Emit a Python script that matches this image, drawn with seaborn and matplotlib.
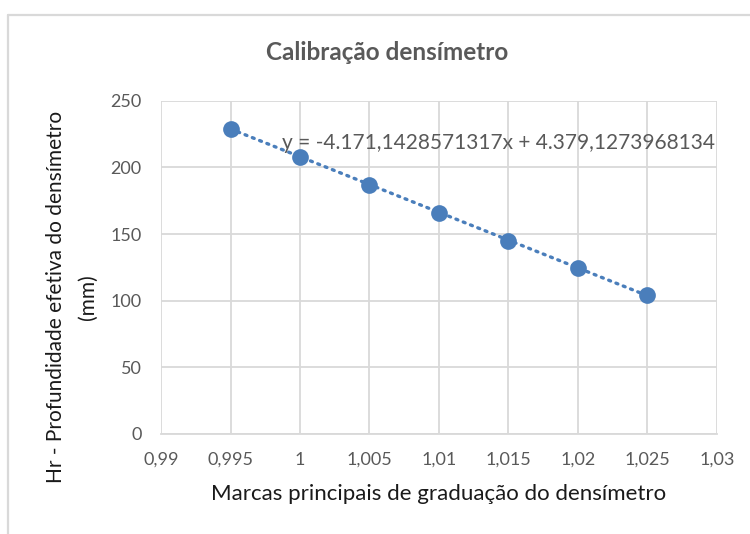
import matplotlib
matplotlib.use("Agg")
import matplotlib.pyplot as plt
import seaborn as sns
import pandas as pd
from matplotlib.lines import Line2D

# Hydrometer calibration readings
marcas = [0.995, 1.000, 1.005, 1.010, 1.015, 1.020, 1.025]
profundidade = [229.0, 207.5, 187.0, 166.0, 145.0, 124.5, 104.0]

# Linear trendline coefficients
inclinacao = -4171.1428571317
intercepto = 4379.1273968134

x_ticks = [0.99, 0.995, 1.0, 1.005, 1.01, 1.015, 1.02, 1.025, 1.03]
x_tick_labels = ["0,99", "0,995", "1", "1,005", "1,01", "1,015", "1,02", "1,025", "1,03"]
y_ticks = [0, 50, 100, 150, 200, 250]

titulo = "Calibração densímetro"
rotulo_x = "Marcas principais de graduação do densímetro"
rotulo_y = "Hr - Profundidade efetiva do densímetro\n(mm)"

sns.set_theme(style="white")
plt.rcParams["font.family"] = ["Lato", "DejaVu Sans"]

azul = "#4A7EBB"
cinza_texto = "#595959"
cinza_grade = "#D9D9D9"

df = pd.DataFrame({"marca": marcas, "hr": profundidade})

W, H = 750, 534
fig = plt.figure(figsize=(W / 100, H / 100), dpi=100)
fig.patch.set_facecolor("white")

# Chart area frame (top and left edges visible)
fig.add_artist(Line2D([8 / W, 1.0], [1 - 14.5 / H] * 2, transform=fig.transFigure,
                      color=cinza_grade, lw=1.6))
fig.add_artist(Line2D([8 / W] * 2, [0.0, 1 - 14.5 / H], transform=fig.transFigure,
                      color=cinza_grade, lw=1.6))

ax = fig.add_axes([161 / W, (H - 434) / H, (717 - 161) / W, (434 - 100.7) / H])

# Trendline
x0, x1 = marcas[0], marcas[-1]
ax.plot([x0, x1], [inclinacao * x0 + intercepto, inclinacao * x1 + intercepto],
        color=azul, lw=2.4, linestyle=(0, (0.6, 1.75)), dash_capstyle="round", zorder=2)

sns.scatterplot(data=df, x="marca", y="hr", ax=ax, color=azul, s=145,
                edgecolor=azul, linewidth=0, zorder=3, legend=False)


def fmt_pt(v):
    s = f"{abs(v):,.10f}".replace(",", "X").replace(".", ",").replace("X", ".")
    return ("-" if v < 0 else "") + s


eq = f"y = {fmt_pt(inclinacao)}x + {fmt_pt(intercepto)}"
ax.text(0.99868, 218, eq, color=cinza_texto, fontsize=15,
        ha="left", va="center", zorder=4)

ax.set_xlim(0.99, 1.03)
ax.set_ylim(0, 250)
ax.set_xticks(x_ticks)
ax.set_xticklabels(x_tick_labels)
ax.set_yticks(y_ticks)
ax.grid(True, color=cinza_grade, lw=1.3)
ax.set_axisbelow(True)
for side in ["top", "right", "left"]:
    ax.spines[side].set_visible(False)
ax.spines["bottom"].set_color(cinza_grade)
ax.spines["bottom"].set_linewidth(1.3)
ax.tick_params(axis="both", length=0, labelsize=13, labelcolor=cinza_texto)
ax.tick_params(axis="x", pad=13)
ax.tick_params(axis="y", pad=14)

ax.set_xlabel(rotulo_x, fontsize=16, color="#1a1a1a")
ax.xaxis.set_label_coords(0.5, (434 - 484) / (434 - 100.7))
ax.set_ylabel("")

fig.text(72 / W, 1 - 297 / H, rotulo_y, rotation=90, ha="center", va="center",
         multialignment="center", fontsize=15, color="#1a1a1a", linespacing=1.75)

fig.text(387 / W, 1 - 52 / H, titulo, ha="center", va="center",
         fontsize=17.5, fontweight="bold", color=cinza_texto)

fig.savefig("out.png", dpi=100, facecolor="white")
